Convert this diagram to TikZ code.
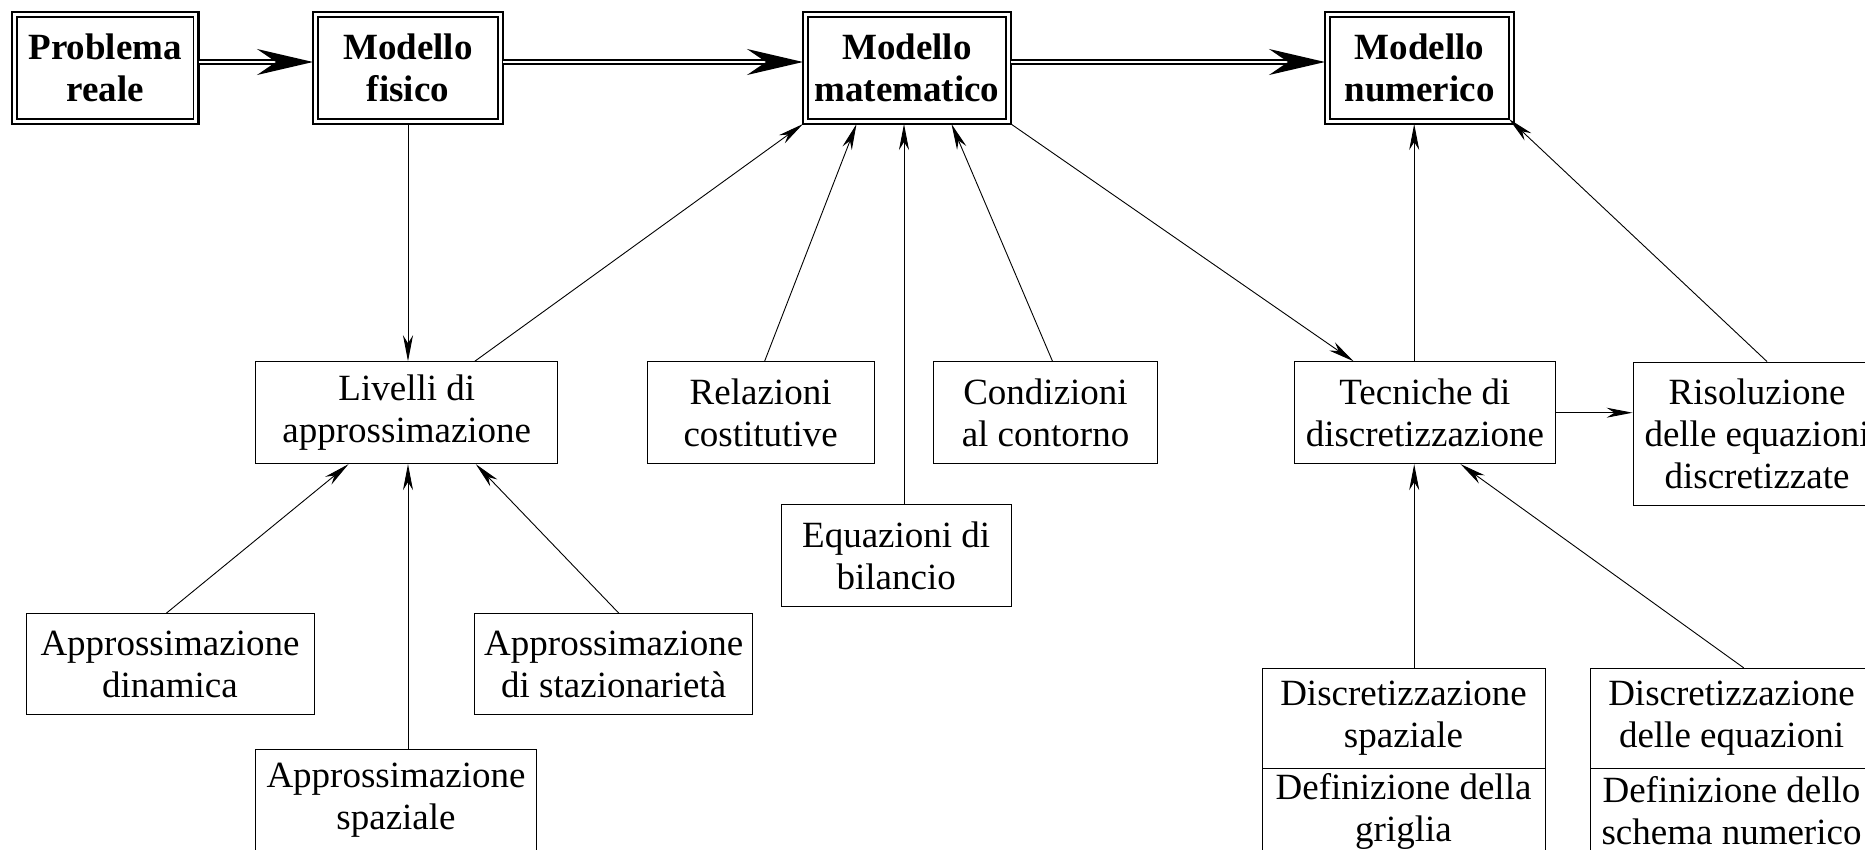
\documentclass[tikz,border=0pt]{standalone}
\usepackage{fontspec}
\setmainfont{Liberation Serif}
\usetikzlibrary{arrows.meta,fit}
\begin{document}
\begin{tikzpicture}[x=1pt,y=-1pt,
  txt/.style={font=\fontsize{37}{42}\selectfont, align=center, inner sep=0pt},
  topbox/.style={txt, font=\fontsize{37}{42}\selectfont\bfseries, draw, line width=1.5pt, outer sep=0pt, minimum height=102pt},
  outerbox/.style={draw, line width=2.6pt, inner sep=5pt, outer sep=0pt},
  lowbox/.style={txt, draw, line width=0.9pt, minimum height=102pt},
  conn/.style={line width=0.9pt, -{Stealth[length=26pt,width=10pt,inset=8pt]}},
  bigarrow/.style={double, double distance=2.2pt, line width=1.6pt, -{Stealth[length=56pt,width=26pt,inset=19pt]}}
]
\useasboundingbox (0,0) rectangle (1865,849);
\clip (0,0) rectangle (1865,849);
% top boxes
\node[topbox, minimum width=176.5pt] (pr) at (105.25,68) {Problema\\reale};
\node[topbox, minimum width=180pt] (mf) at (408,68) {Modello\\fisico};
\node[topbox, minimum width=198pt] (mm) at (907,68) {Modello\\matematico};
\node[topbox, minimum width=179pt] (mn) at (1419.5,68) {Modello\\numerico};
\node[outerbox, fit=(pr)] (prO) {};
\node[outerbox, fit=(mf)] (mfO) {};
\node[outerbox, fit=(mm)] (mmO) {};
\node[outerbox, fit=(mn)] (mnO) {};
% lower boxes
\node[lowbox, minimum width=302pt] (liv) at (406.8,412.7) {Livelli di\\approssimazione};
\node[lowbox, minimum width=227pt] (rel) at (760.6,412.7) {Relazioni\\costitutive};
\node[lowbox, minimum width=223.6pt] (con) at (1045.5,412.7) {Condizioni\\al contorno};
\node[lowbox, minimum width=229.6pt] (eq) at (896.2,555.5) {Equazioni di\\bilancio};
\node[lowbox, minimum width=261.7pt] (tec) at (1424.9,412.7) {Tecniche di\\discretizzazione};
\node[lowbox, minimum width=248pt, minimum height=143pt] (ris) at (1757,433.5) {Risoluzione\\delle equazioni\\discretizzate};
\node[lowbox, minimum width=288pt, minimum height=101pt] (ad) at (170,664) {Approssimazione\\dinamica};
\node[lowbox, minimum width=278pt, minimum height=101pt] (ast) at (613.7,664) {Approssimazione\\di stazionarietà};
\node[lowbox, minimum width=281pt] (asp) at (396,800.5) {Approssimazione\\spaziale};
\node[lowbox, minimum width=283pt, minimum height=100pt] (ds1) at (1403.5,718.3) {Discretizzazione\\spaziale};
\node[lowbox, minimum width=283pt, minimum height=86pt] (ds2) at (1403.5,811) {Definizione della\\griglia};
\node[lowbox, minimum width=283pt, minimum height=100pt] (de1) at (1731.5,718.3) {Discretizzazione\\delle equazioni};
\node[lowbox, minimum width=283pt, minimum height=86pt] (de2) at (1731.5,811) {Definizione dello\\schema numerico};
% main double arrows
\draw[bigarrow] ([yshift=6pt]prO.east) -- ([yshift=6pt]mfO.west);
\draw[bigarrow] ([yshift=6pt]mfO.east) -- ([yshift=6pt]mmO.west);
\draw[bigarrow] ([yshift=6pt]mmO.east) -- ([yshift=6pt]mnO.west);
% connectors
\draw[conn] (mfO.south) -- (mfO.south |- liv.north);
\draw[conn] ([xshift=68pt]liv.north) -- (mmO.south west);
\draw[conn] ([xshift=4pt]rel.north) -- ([xshift=-50.5pt]mmO.south);
\draw[conn] ([xshift=7.8pt]eq.north) -- ([xshift=7.8pt]eq.north |- mmO.south);
\draw[conn] ([xshift=7pt]con.north) -- ([xshift=44.5pt]mmO.south);
\draw[conn] (mmO.south east) -- ([xshift=-71.4pt]tec.north);
\draw[conn] ([xshift=-10.7pt]tec.north) -- ([xshift=-10.7pt]tec.north |- mnO.south);
\draw[conn] (tec.east) -- (tec.east -| ris.west);
\draw[conn] ([xshift=10pt]ris.north) -- (mn.south east);
\draw[conn] ([xshift=-3.5pt]ad.north) -- ([xshift=-58.3pt]liv.south);
\draw[conn] ([xshift=12pt]asp.north) -- ([xshift=12pt]asp.north |- liv.south);
\draw[conn] ([xshift=5pt]ast.north) -- ([xshift=69pt]liv.south);
\draw[conn] ([xshift=10.7pt]ds1.north) -- ([xshift=10.7pt]ds1.north |- tec.south);
\draw[conn] ([xshift=12.2pt]de1.north) -- ([xshift=35.7pt]tec.south);
\end{tikzpicture}
\end{document}
